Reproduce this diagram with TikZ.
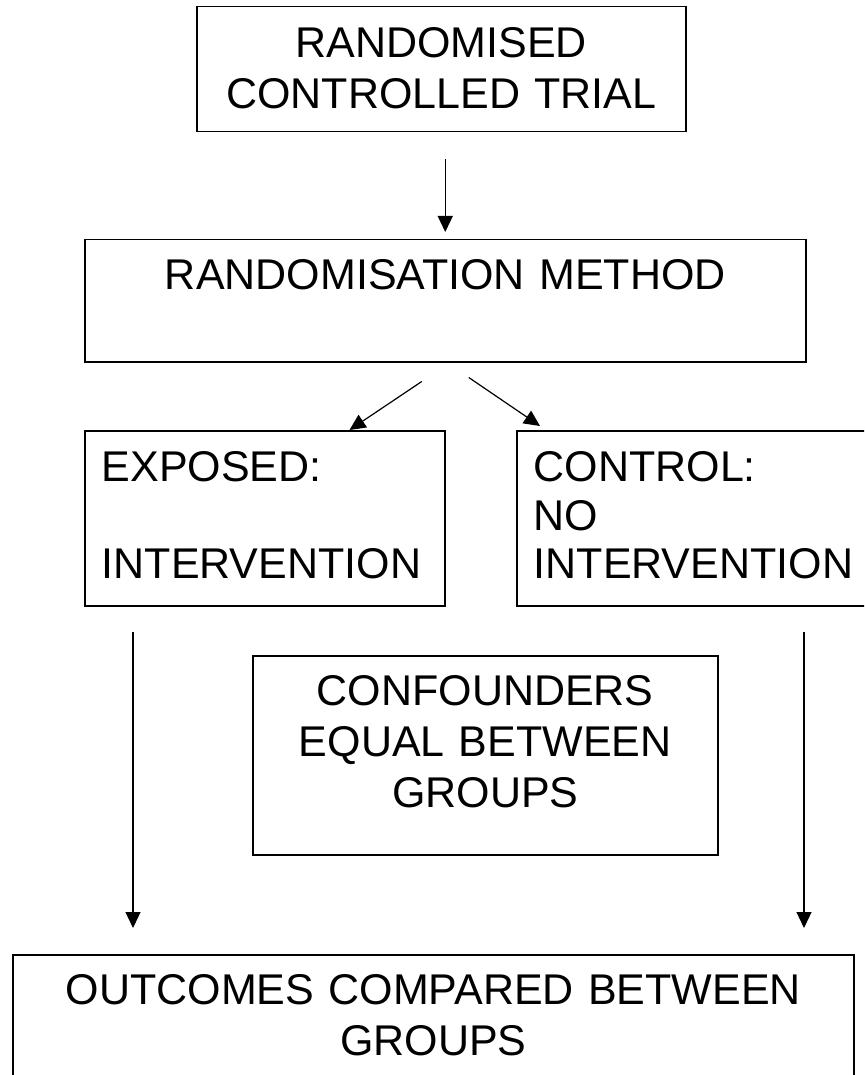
\documentclass[tikz,border=0pt]{standalone}
\usepackage{fontspec}
\setmainfont{Liberation Sans}
\usetikzlibrary{arrows.meta}

\begin{document}
\begin{tikzpicture}[x=1pt,y=1pt,
    box/.style={draw,line width=1.5pt,inner sep=0pt,align=center,anchor=north west,
        font=\fontsize{43}{51}\selectfont,text height=50pt},
    sidebox/.style={box,align=left,inner xsep=17pt,text width=326pt,
        font=\fontsize{43}{48.5}\selectfont,text height=51pt,text depth=124pt},
    arr/.style={line width=1.2pt,-{Triangle[length=16pt,width=15pt]}}]
    \useasboundingbox (0,0) rectangle (864,-1075);
    \clip (0,0) rectangle (864,-1075);
    % boxes
    \node [box,text width=489pt,text height=51pt,text depth=74pt] (trial) at (196,-6) {RANDOMISED\\CONTROLLED TRIAL};
    \node [box,text width=721pt,text depth=72pt] (method) at (84,-239) {RANDOMISATION METHOD};
    \node [sidebox] (exposed) at (84,-430) {EXPOSED:\\[48.5pt]INTERVENTION};
    \node [sidebox] (control) at (516,-430) {CONTROL:\\NO\\INTERVENTION};
    \node [box,text width=465pt,text depth=149pt] (confounders) at (252,-655) {CONFOUNDERS\\EQUAL BETWEEN\\GROUPS};
    \node [box,text width=841pt,text depth=136pt] (outcomes) at (12,-954) {OUTCOMES COMPARED BETWEEN\\GROUPS};
    % arrows
    \draw [arr] ([yshift=-27pt]trial.south -| method.north) -- ([yshift=7pt]method.north);
    \draw [arr] ([xshift=-23.5pt,yshift=-19pt]method.south) -- ([xshift=-96pt]exposed.north east);
    \draw [arr] ([xshift=23.5pt,yshift=-15pt]method.south) -- ([xshift=24pt,yshift=4pt]control.north west);
    \draw [arr,shorten <=25pt,shorten >=26pt] ([xshift=49pt]exposed.south west) -- ([xshift=49pt]exposed.south west |- outcomes.north);
    \draw [arr,shorten <=25pt,shorten >=26pt] ([xshift=288pt]control.south west) -- ([xshift=288pt]control.south west |- outcomes.north);
\end{tikzpicture}
\end{document}
